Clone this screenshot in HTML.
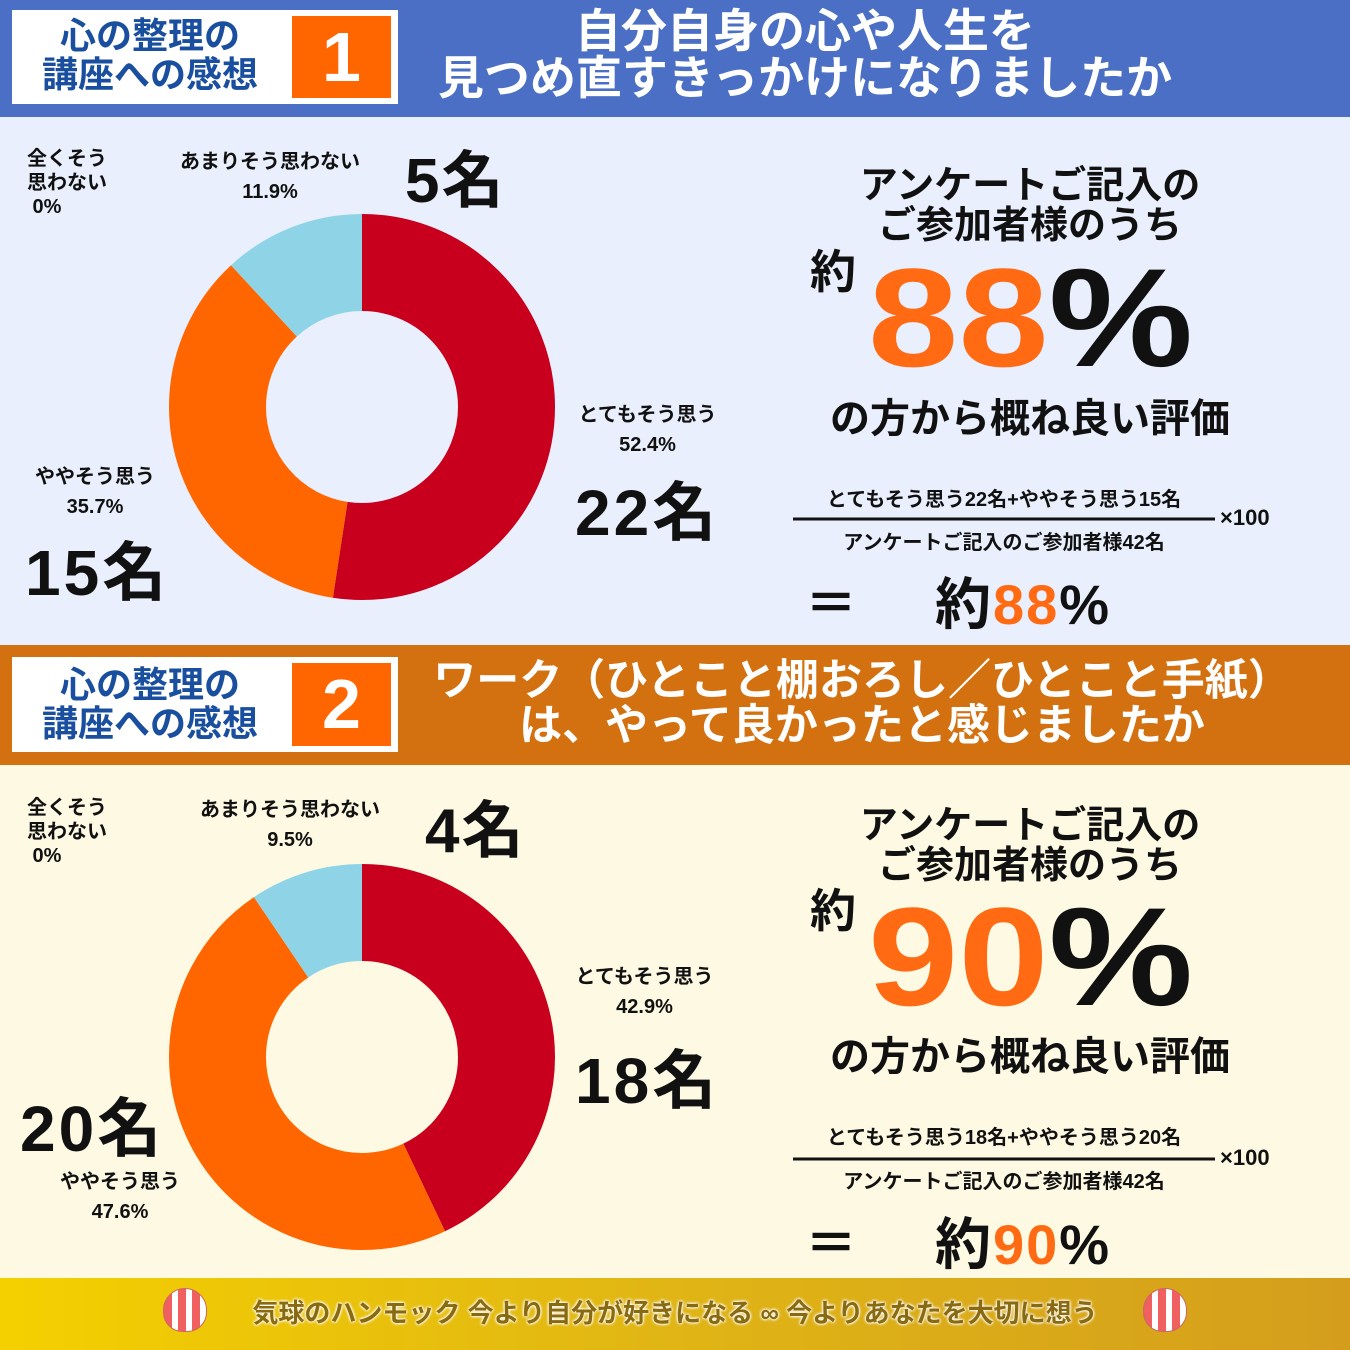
<!DOCTYPE html>
<html><head><meta charset="utf-8"><style>
*{margin:0;padding:0;box-sizing:border-box}
body{width:1350px;height:1350px;position:relative;overflow:hidden;font-family:"Liberation Sans","Noto Sans CJK JP",sans-serif;font-weight:bold;background:#fff}
.a{position:absolute;white-space:nowrap}
.c{text-align:center}
</style></head><body>
<!-- Section 1 -->
<div class="a" style="left:0;top:0;width:1350px;height:117px;background:#4a6fc4"></div>
<div class="a" style="left:0;top:117px;width:1350px;height:528px;background:#e9effc"></div>
<div class="a" style="left:12px;top:10px;width:386px;height:94px;background:#fff"></div>
<div class="a" style="left:290px;top:14px;width:103px;height:86px;background:#ff6600;border:2px solid #fff"></div>
<div class="a c" style="left:290px;top:14px;width:103px;height:86px;color:#fff;font-size:70px;line-height:86px">1</div>
<div class="a c" style="left:16px;top:16px;width:268px;color:#1a4fa0;font-size:36px;line-height:39px">心の整理の<br>講座への感想</div>
<div class="a c" style="left:405px;top:8px;width:800px;color:#fff;font-size:46px;line-height:47px">自分自身の心や人生を<br>見つめ直すきっかけになりましたか</div>

<!-- Section 2 -->
<div class="a" style="left:0;top:645px;width:1350px;height:120px;background:#d3700f"></div>
<div class="a" style="left:0;top:765px;width:1350px;height:513px;background:#fdf9e3"></div>
<div class="a" style="left:12px;top:657px;width:386px;height:95px;background:#fff"></div>
<div class="a" style="left:290px;top:661px;width:103px;height:87px;background:#ff6600;border:2px solid #fff"></div>
<div class="a c" style="left:290px;top:661px;width:103px;height:87px;color:#fff;font-size:70px;line-height:87px">2</div>
<div class="a c" style="left:16px;top:665px;width:268px;color:#1a4fa0;font-size:36px;line-height:39px">心の整理の<br>講座への感想</div>
<div class="a c" style="left:412px;top:659px;width:900px;color:#fff;font-size:43px;line-height:45px">ワーク（ひとこと棚おろし／ひとこと手紙）<br>は、やって良かったと感じましたか</div>

<!-- Footer -->
<div class="a" style="left:0;top:1278px;width:1350px;height:72px;background:linear-gradient(90deg,#f4d000,#e0b515 50%,#d49e1c)"></div>
<div class="a c" style="left:200px;top:1293px;width:950px;font-size:26px;color:#8a6a10;text-shadow:0 0 3px #fff,0 0 3px #fff,0 0 2px #fff">気球のハンモック 今より自分が好きになる ∞ 今よりあなたを大切に想う</div>
<div class="a" style="left:163px;top:1288px;width:44px;height:44px;border-radius:50% 50% 45% 45%;background:repeating-linear-gradient(90deg,#f06060 0 8px,#fff 8px 14px);border:1px solid #c66"></div>
<div class="a" style="left:1143px;top:1288px;width:44px;height:44px;border-radius:50% 50% 45% 45%;background:repeating-linear-gradient(90deg,#f06060 0 8px,#fff 8px 14px);border:1px solid #c66"></div>

<svg class="a" style="left:0;top:0" width="1350" height="1350">
<g transform="rotate(-90 362 407)">
<circle cx="362" cy="407" r="144.5" fill="none" stroke="#c8001e" stroke-width="97" stroke-dasharray="475.7 1000"/>
<circle cx="362" cy="407" r="144.5" fill="none" stroke="#ff6600" stroke-width="97" stroke-dasharray="324.1 1000" stroke-dashoffset="-475.7"/>
<circle cx="362" cy="407" r="144.5" fill="none" stroke="#8fd4e6" stroke-width="97" stroke-dasharray="108.1 1000" stroke-dashoffset="-799.8"/>
</g>
<g transform="rotate(-90 362 1057)">
<circle cx="362" cy="1057" r="144.5" fill="none" stroke="#c8001e" stroke-width="97" stroke-dasharray="389.5 1000"/>
<circle cx="362" cy="1057" r="144.5" fill="none" stroke="#ff6600" stroke-width="97" stroke-dasharray="432.2 1000" stroke-dashoffset="-389.5"/>
<circle cx="362" cy="1057" r="144.5" fill="none" stroke="#8fd4e6" stroke-width="97" stroke-dasharray="86.2 1000" stroke-dashoffset="-821.7"/>
</g>
<line x1="793" y1="519" x2="1215" y2="519" stroke="#111" stroke-width="3"/>
<line x1="793" y1="1159" x2="1215" y2="1159" stroke="#111" stroke-width="3"/>
</svg>

<div class="a" style="left:27px;top:147px;font-size:20px;line-height:24px;color:#111">全くそう<br>思わない<br>&nbsp;0%</div>
<div class="a c" style="left:160px;top:147px;width:220px;font-size:20px;line-height:30px;color:#111">あまりそう思わない<br>11.9%</div>
<div class="a" style="left:405px;top:130px;font-size:62px;color:#111;letter-spacing:2px">5名</div>
<div class="a c" style="left:560px;top:400px;width:175px;font-size:20px;line-height:30px;color:#111">とてもそう思う<br>52.4%</div>
<div class="a" style="left:575px;top:462px;font-size:64px;color:#111;letter-spacing:3px">22名</div>
<div class="a c" style="left:20px;top:462px;width:150px;font-size:20px;line-height:30px;color:#111">ややそう思う<br>35.7%</div>
<div class="a" style="left:25px;top:522px;font-size:64px;color:#111;letter-spacing:3px">15名</div>

<div class="a c" style="left:820px;top:166px;width:420px;font-size:38px;line-height:40px;color:#111">アンケートご記入の<br>ご参加者様のうち</div>
<div class="a" style="left:810px;top:236px;font-size:46px;color:#111">約</div>
<div class="a" style="left:868px;top:248px;font-size:140px;line-height:140px;color:#ff6a13;transform:scaleX(1.16);transform-origin:left">88<span style="color:#111">%</span></div>
<div class="a c" style="left:820px;top:386px;width:420px;font-size:40px;color:#111">の方から概ね良い評価</div>
<div class="a c" style="left:793px;top:483px;width:422px;font-size:20px;color:#111">とてもそう思う22名+ややそう思う15名</div>
<div class="a c" style="left:793px;top:526px;width:422px;font-size:20px;color:#111">アンケートご記入のご参加者様42名</div>
<div class="a" style="left:1220px;top:505px;font-size:22px;color:#111">×100</div>
<div class="a" style="left:805px;top:562px;font-size:52px;color:#111">＝</div>
<div class="a" style="left:935px;top:560px;font-size:56px;color:#111;letter-spacing:2px">約<span style="color:#ff6a13">88</span>%</div>

<div class="a" style="left:27px;top:796px;font-size:20px;line-height:24px;color:#111">全くそう<br>思わない<br>&nbsp;0%</div>
<div class="a c" style="left:180px;top:795px;width:220px;font-size:20px;line-height:30px;color:#111">あまりそう思わない<br>9.5%</div>
<div class="a" style="left:425px;top:780px;font-size:62px;color:#111;letter-spacing:2px">4名</div>
<div class="a c" style="left:557px;top:962px;width:175px;font-size:20px;line-height:30px;color:#111">とてもそう思う<br>42.9%</div>
<div class="a" style="left:575px;top:1030px;font-size:64px;color:#111;letter-spacing:3px">18名</div>
<div class="a" style="left:20px;top:1078px;font-size:64px;color:#111;letter-spacing:3px">20名</div>
<div class="a c" style="left:45px;top:1167px;width:150px;font-size:20px;line-height:30px;color:#111">ややそう思う<br>47.6%</div>

<div class="a c" style="left:820px;top:806px;width:420px;font-size:38px;line-height:40px;color:#111">アンケートご記入の<br>ご参加者様のうち</div>
<div class="a" style="left:810px;top:875px;font-size:46px;color:#111">約</div>
<div class="a" style="left:868px;top:887px;font-size:140px;line-height:140px;color:#ff6a13;transform:scaleX(1.16);transform-origin:left">90<span style="color:#111">%</span></div>
<div class="a c" style="left:820px;top:1024px;width:420px;font-size:40px;color:#111">の方から概ね良い評価</div>
<div class="a c" style="left:793px;top:1121px;width:422px;font-size:20px;color:#111">とてもそう思う18名+ややそう思う20名</div>
<div class="a c" style="left:793px;top:1165px;width:422px;font-size:20px;color:#111">アンケートご記入のご参加者様42名</div>
<div class="a" style="left:1220px;top:1145px;font-size:22px;color:#111">×100</div>
<div class="a" style="left:805px;top:1202px;font-size:52px;color:#111">＝</div>
<div class="a" style="left:935px;top:1200px;font-size:56px;color:#111;letter-spacing:2px">約<span style="color:#ff6a13">90</span>%</div>
</body></html>
